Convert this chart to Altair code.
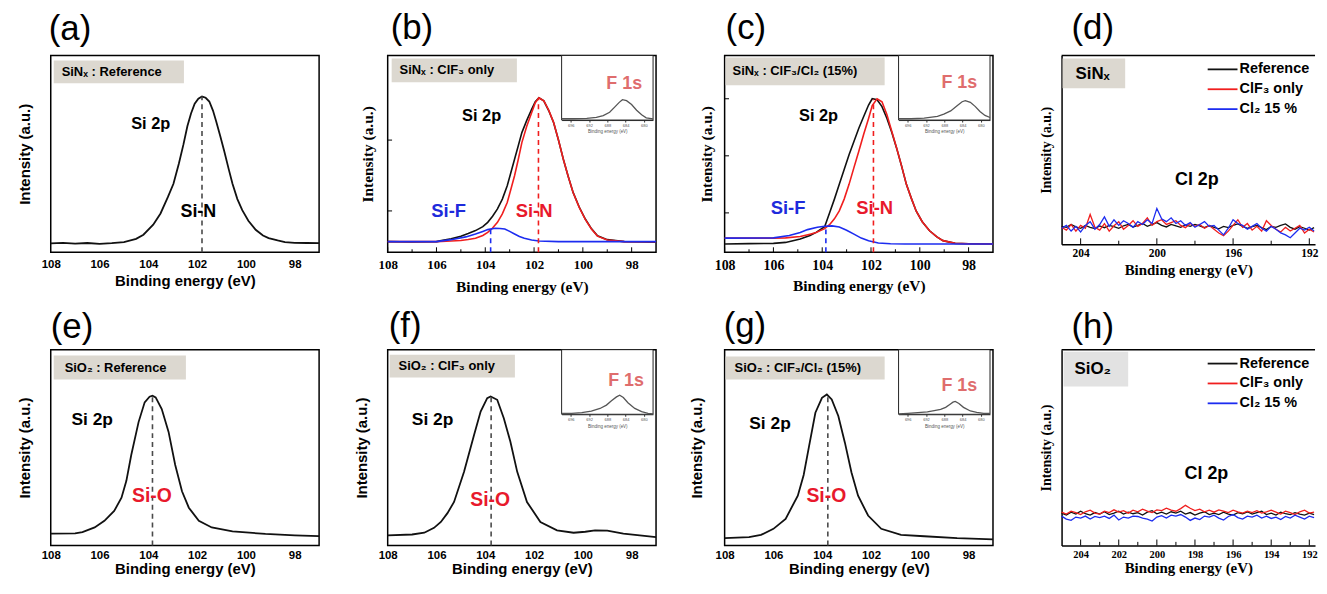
import altair as alt
import pandas as pd

SANS = "Liberation Sans"
SERIF = "Liberation Serif"
W, H = 270, 198
H2 = 197
W4, H_D = 255, 190
BOX = "#dcd8d0"
BOX_H = "#e2e2e2"
RED = "#f01e1e"
BLUE = "#1c2cf0"
TXT_RED = "#e8192c"
TXT_BLUE = "#1e2bdc"
F1S = "#df6d6d"
GRAY_DASH = "#4a4a4a"
BLACK = "#111111"

# ---------------- data ----------------
SI_TICKS = [108, 106, 104, 102, 100, 98]
SI_MINOR = [107, 105, 103, 101, 99]
D_TICKS = [204, 200, 196, 192]
D_MINOR = [202, 198, 194]
H_TICKS = [204, 202, 200, 198, 196, 194, 192]
H_MINOR = [203, 201, 199, 197, 195, 193]
INSET_TICKS = [696, 692, 688, 684, 680]
SERIES = ["Reference", "ClF₃ only", "Cl₂ 15 %"]

# (a) SiNx reference
A_X = [108.0, 107.5, 107.0, 106.5, 106.0, 105.5, 105.0, 104.5, 104.2, 103.8, 103.5, 103.2, 102.97,
       102.75, 102.56, 102.4, 102.25, 102.1, 101.95, 101.8, 101.65, 101.5, 101.35, 101.22, 101.05,
       100.89, 100.7, 100.55, 100.35, 100.15, 99.9, 99.6, 99.3, 99.07, 98.7, 98.4, 98.0, 97.5, 97.0]
A_Y = [0.045, 0.048, 0.044, 0.047, 0.043, 0.046, 0.052, 0.068, 0.089, 0.14, 0.197, 0.28, 0.348,
       0.45, 0.548, 0.64, 0.705, 0.755, 0.78, 0.791, 0.785, 0.766, 0.72, 0.666, 0.59,
       0.515, 0.42, 0.348, 0.27, 0.214, 0.16, 0.114, 0.085, 0.072, 0.06, 0.052, 0.048, 0.047, 0.046]

# (b) SiNx ClF3 only
B_X = [108.0, 107.0, 106.0, 105.8, 105.4, 105.0, 104.7, 104.4, 104.1, 103.9, 103.7, 103.5, 103.3,
       103.1, 102.95, 102.8, 102.65, 102.5, 102.3, 102.1, 101.95, 101.8, 101.6, 101.4, 101.2, 101.0,
       100.8, 100.6, 100.4, 100.15, 99.9, 99.65, 99.4, 99.0, 98.3, 97.6, 97.0]
B_BLACK = [0.054, 0.052, 0.054, 0.059, 0.068, 0.081, 0.095, 0.11, 0.13, 0.152, 0.183, 0.22, 0.27,
           0.338, 0.405, 0.473, 0.54, 0.608, 0.67, 0.726, 0.765, 0.785, 0.769, 0.72, 0.659, 0.57,
           0.473, 0.385, 0.304, 0.23, 0.169, 0.12, 0.084, 0.064, 0.054, 0.052, 0.051]
B_RED = [0.054, 0.054, 0.054, 0.055, 0.057, 0.06, 0.065, 0.071, 0.085, 0.101, 0.123, 0.152, 0.195,
         0.253, 0.32, 0.389, 0.47, 0.557, 0.64, 0.709, 0.76, 0.785, 0.769, 0.722, 0.66, 0.57,
         0.473, 0.385, 0.304, 0.228, 0.167, 0.118, 0.082, 0.062, 0.054, 0.053, 0.053]
B_BLUE_X = [108.0, 106.0, 105.4, 104.8, 104.4, 104.1, 103.9, 103.6, 103.4, 103.2, 103.0, 102.8,
            102.6, 102.4, 102.1, 101.8, 101.0, 97.0]
B_BLUE = [0.054, 0.054, 0.064, 0.078, 0.093, 0.106, 0.115, 0.122, 0.121, 0.118, 0.106, 0.093,
          0.08, 0.071, 0.062, 0.057, 0.054, 0.054]

# (c) SiNx ClF3/Cl2
C_X = [108.0, 107.0, 106.0, 105.5, 104.9, 104.5, 104.25, 103.9, 103.7, 103.5, 103.3, 103.1, 102.9,
       102.7, 102.5, 102.3, 102.1, 101.95, 101.75, 101.55, 101.35, 101.15, 100.95, 100.75, 100.55,
       100.35, 100.15, 99.9, 99.6, 99.3, 99.05, 98.55, 98.0, 97.0]
C_BLACK = [0.042, 0.044, 0.045, 0.05, 0.067, 0.085, 0.101, 0.13, 0.2, 0.27, 0.345, 0.42, 0.496,
           0.563, 0.63, 0.69, 0.748, 0.78, 0.775, 0.74, 0.681, 0.61, 0.529, 0.44, 0.345,
           0.275, 0.21, 0.155, 0.109, 0.078, 0.059, 0.045, 0.043, 0.042]
C_RED = [0.072, 0.072, 0.072, 0.073, 0.08, 0.092, 0.1, 0.12, 0.14, 0.17, 0.21, 0.27, 0.345,
         0.43, 0.513, 0.6, 0.68, 0.745, 0.78, 0.765, 0.7, 0.615, 0.53, 0.44, 0.345,
         0.275, 0.21, 0.155, 0.109, 0.078, 0.059, 0.046, 0.043, 0.042]
C_BLUE_X = [108.0, 106.0, 105.35, 104.9, 104.6, 104.2, 103.9, 103.6, 103.3, 103.0, 102.7, 102.4,
            102.1, 101.7, 101.2, 100.6, 97.0]
C_BLUE = [0.072, 0.073, 0.085, 0.1, 0.115, 0.127, 0.132, 0.134, 0.128, 0.112, 0.092, 0.072,
          0.058, 0.047, 0.043, 0.042, 0.042]

# (e) SiO2 reference
E_X = [108.0, 107.0, 106.7, 106.2, 105.8, 105.4, 105.1, 104.9, 104.7, 104.4, 104.15, 103.95, 103.83,
       103.7, 103.45, 103.17, 102.9, 102.62, 102.34, 101.93, 101.4, 100.55, 99.2, 98.0, 97.0]
E_Y = [0.06, 0.062, 0.068, 0.092, 0.126, 0.176, 0.244, 0.33, 0.462, 0.63, 0.731, 0.76, 0.765,
       0.756, 0.697, 0.58, 0.412, 0.277, 0.193, 0.126, 0.092, 0.072, 0.059, 0.052, 0.048]

# (f) SiO2 ClF3 only
F_X = [108.0, 107.0, 106.5, 106.1, 105.82, 105.55, 105.28, 104.87, 104.46, 104.19, 103.92, 103.78,
       103.51, 103.24, 102.97, 102.69, 102.29, 101.74, 101.06, 100.38, 99.9, 99.5, 99.0, 98.34, 97.0]
F_Y = [0.051, 0.056, 0.065, 0.09, 0.12, 0.165, 0.222, 0.376, 0.564, 0.684, 0.752, 0.761,
       0.744, 0.65, 0.53, 0.376, 0.222, 0.12, 0.077, 0.065, 0.07, 0.077, 0.076, 0.06, 0.043]

# (g) SiO2 ClF3/Cl2
G_X = [108.0, 107.0, 106.51, 106.0, 105.5, 105.0, 104.76, 104.55, 104.28, 104.01, 103.81, 103.61,
       103.34, 103.07, 102.8, 102.53, 102.12, 101.58, 100.77, 99.82, 98.47, 97.0]
G_Y = [0.037, 0.043, 0.054, 0.085, 0.136, 0.254, 0.36, 0.5, 0.678, 0.754, 0.771, 0.746,
       0.661, 0.525, 0.373, 0.254, 0.153, 0.085, 0.054, 0.047, 0.037, 0.031]

# F 1s insets
IB_X = [698, 695.5, 692.5, 690.4, 688.9, 687.5, 686.4, 685.4, 684.7, 683.8, 682.7, 681.6, 680.5, 679.5, 678]
IB_Y = [0.02, 0.02, 0.025, 0.04, 0.07, 0.12, 0.2, 0.274, 0.315, 0.3, 0.24, 0.152, 0.081, 0.035, 0.02]
IC_X = [698, 695.3, 692.4, 689.5, 688.1, 686.6, 685.2, 684.1, 683.4, 682.3, 681.2, 680.2, 679.1, 678]
IC_Y = [0.02, 0.02, 0.03, 0.056, 0.091, 0.142, 0.223, 0.284, 0.299, 0.274, 0.208, 0.132, 0.071, 0.04]
IF_X = [698, 695.8, 693.6, 691.5, 689.6, 688.2, 687.1, 686.0, 685.3, 684.5, 683.5, 682.0, 680.5, 679.1, 678]
IF_Y = [0.015, 0.015, 0.025, 0.05, 0.09, 0.142, 0.208, 0.269, 0.294, 0.259, 0.178, 0.091, 0.041, 0.015, 0.005]
IG_X = [698, 696, 693.8, 691.7, 690.2, 688.8, 687.7, 686.8, 686.1, 685.6, 684.8, 683.8, 682.3, 680.9, 679.4, 678]
IG_Y = [0.005, 0.015, 0.025, 0.036, 0.056, 0.076, 0.107, 0.152, 0.188, 0.198, 0.168, 0.107, 0.051, 0.03, 0.015, 0.015]

# Cl 2p scans
CL_X = [205.0, 204.75, 204.5, 204.25, 204.0, 203.75, 203.5, 203.25,
        203.0, 202.75, 202.5, 202.25, 202.0, 201.75, 201.5, 201.25,
        201.0, 200.75, 200.5, 200.25, 200.0, 199.75, 199.5, 199.25,
        199.0, 198.75, 198.5, 198.25, 198.0, 197.75, 197.5, 197.25,
        197.0, 196.75, 196.5, 196.25, 196.0, 195.75, 195.5, 195.25,
        195.0, 194.75, 194.5, 194.25, 194.0, 193.75, 193.5, 193.25,
        193.0, 192.75, 192.5, 192.25, 192.0, 191.75]
D_REF = [0.095, 0.09, 0.105, 0.092, 0.085, 0.1, 0.09, 0.083,
         0.097, 0.088, 0.1, 0.093, 0.085, 0.098, 0.105, 0.092,
         0.1, 0.11, 0.095, 0.105, 0.115, 0.1, 0.092, 0.105,
         0.098, 0.09, 0.103, 0.095, 0.105, 0.097, 0.088, 0.1,
         0.09, 0.082, 0.095, 0.088, 0.1, 0.108, 0.095, 0.085,
         0.093, 0.1, 0.088, 0.078, 0.095, 0.09, 0.1, 0.108,
         0.09, 0.08, 0.093, 0.085, 0.075, 0.088]
D_CLF3 = [0.09, 0.075, 0.105, 0.07, 0.1, 0.085, 0.158, 0.09,
          0.075, 0.11, 0.07, 0.098, 0.12, 0.08, 0.1, 0.125,
          0.095, 0.11, 0.14, 0.1, 0.12, 0.13, 0.105, 0.115,
          0.125, 0.1, 0.088, 0.11, 0.095, 0.105, 0.085, 0.1,
          0.08, 0.06, 0.045, 0.07, 0.1, 0.13, 0.09, 0.11,
          0.075, 0.095, 0.07, 0.125, 0.1, 0.08, 0.065, 0.09,
          0.07, 0.085, 0.1, 0.06, 0.08, 0.065]
D_CL2 = [0.085, 0.1, 0.07, 0.095, 0.065, 0.1, 0.12, 0.08,
         0.105, 0.145, 0.095, 0.13, 0.1, 0.125, 0.11, 0.09,
         0.12, 0.105, 0.13, 0.11, 0.19, 0.135, 0.12, 0.14,
         0.11, 0.125, 0.1, 0.115, 0.09, 0.105, 0.12, 0.095,
         0.1, 0.075, 0.05, 0.085, 0.13, 0.11, 0.1, 0.08,
         0.095, 0.11, 0.085, 0.07, 0.095, 0.08, 0.06, 0.05,
         0.035, 0.06, 0.085, 0.075, 0.09, 0.07]
H_REF = [0.165, 0.155, 0.17, 0.16, 0.175, 0.162, 0.155, 0.168,
         0.16, 0.172, 0.158, 0.165, 0.175, 0.16, 0.17, 0.162,
         0.168, 0.155, 0.17, 0.178, 0.162, 0.17, 0.16, 0.172,
         0.165, 0.175, 0.16, 0.168, 0.155, 0.165, 0.172, 0.158,
         0.165, 0.158, 0.17, 0.16, 0.155, 0.168, 0.162, 0.172,
         0.16, 0.168, 0.175, 0.158, 0.165, 0.155, 0.17, 0.162,
         0.158, 0.168, 0.16, 0.155, 0.165, 0.158]
H_CLF3 = [0.17, 0.16, 0.175, 0.168, 0.158, 0.172, 0.18, 0.165,
          0.16, 0.175, 0.168, 0.182, 0.17, 0.178, 0.165, 0.18,
          0.172, 0.185, 0.175, 0.168, 0.182, 0.178, 0.19, 0.18,
          0.175, 0.188, 0.205, 0.19, 0.178, 0.185, 0.172, 0.18,
          0.17, 0.182, 0.175, 0.168, 0.18, 0.172, 0.165, 0.175,
          0.168, 0.178, 0.165, 0.172, 0.18, 0.17, 0.16, 0.175,
          0.168, 0.158, 0.172, 0.18, 0.165, 0.17]
H_CL2 = [0.15, 0.135, 0.128, 0.145, 0.14, 0.15, 0.135, 0.148,
         0.142, 0.15, 0.138, 0.155, 0.13, 0.145, 0.14, 0.15,
         0.148, 0.14, 0.135, 0.125, 0.145, 0.152, 0.14, 0.155,
         0.15, 0.158, 0.145, 0.128, 0.14, 0.132, 0.15, 0.145,
         0.155, 0.14, 0.13, 0.148, 0.158, 0.142, 0.135, 0.15,
         0.145, 0.155, 0.14, 0.15, 0.138, 0.145, 0.132, 0.148,
         0.14, 0.155, 0.145, 0.135, 0.15, 0.142]


def one():
    return alt.Data(values=[{}])


def x_axis(values, font, lsize, tsize, lpad, tpad, domain=False):
    return alt.Axis(values=values, format="d", title="Binding energy (eV)",
                    labelFont=font, labelFontSize=lsize, labelFontWeight="bold", labelColor="black",
                    titleFont=font, titleFontSize=tsize, titleFontWeight="bold", titleColor="black",
                    ticks=False, tickSize=0, grid=False, domain=domain, domainColor="black",
                    domainWidth=1.5, labelPadding=lpad, titlePadding=tpad,
                    labelFlush=False, labelOverlap=False)


def y_axis(font, tsize, tpad, domain=False):
    return alt.Axis(title="Intensity (a.u.)", labels=False, ticks=False, tickSize=0, grid=False,
                    domain=domain, domainColor="black", domainWidth=1.5,
                    titleFont=font, titleFontSize=tsize, titleFontWeight="bold",
                    titleColor="black", titlePadding=tpad)


def encs(domain, st, values, domain_lines=False):
    X = alt.X("x:Q", scale=alt.Scale(domain=domain, nice=False, zero=False),
              axis=x_axis(values, st["font"], st["lsize"], st["tsize"], st["lpad"], st["tpad"], domain_lines))
    Y = alt.Y("y:Q", scale=alt.Scale(domain=[0, 1], nice=False, zero=False),
              axis=y_axis(st["font"], st["ytsize"], st["ytpad"], domain_lines))
    return X, Y


def box_layers(box):
    x0, x1, y0, y1, label, size, tx, ty, fill = box
    r = alt.Chart(one()).mark_rect(fill=fill).encode(
        x=alt.value(x0), x2=alt.value(x1), y=alt.value(y0), y2=alt.value(y1))
    t = alt.Chart(one()).mark_text(align="left", baseline="middle", font=SANS, fontWeight="bold",
                                   fontSize=size, color="black").encode(
        x=alt.value(tx), y=alt.value(ty), text=alt.value(label))
    return [r, t]


def text_layers(X, Y, texts):
    out = []
    for (t, x, y, color, size) in texts:
        df = pd.DataFrame({"x": [x], "y": [y], "t": [t]})
        out.append(alt.Chart(df).mark_text(font=SANS, fontWeight="bold", fontSize=size,
                                           color=color).encode(x=X, y=Y, text="t:N"))
    return out


def tick_layers(X, Y, major, minor, lmaj, lmin, yticks=None, xleft=None):
    dfm = pd.DataFrame({"x": major + minor, "y": [0] * (len(major) + len(minor)),
                        "y2": [lmaj] * len(major) + [lmin] * len(minor)})
    out = [alt.Chart(dfm).mark_rule(color="black", strokeWidth=1).encode(
        x=X, y=Y, y2=alt.Y2("y2:Q"))]
    if yticks:
        dfy = pd.DataFrame({"x": [xleft] * len(yticks), "x2": [xleft - 0.18] * len(yticks), "y": yticks})
        out.append(alt.Chart(dfy).mark_rule(color="black", strokeWidth=1).encode(
            x=X, x2=alt.X2("x2:Q"), y=Y))
    return out


def inset_layer(xs, ys, fpos, h):
    ix = alt.X("x:Q", scale=alt.Scale(domain=[698, 678], range=[175, 267], nice=False, zero=False),
               axis=alt.Axis(orient="bottom", offset=-(h - 65), values=INSET_TICKS, format="d",
                             title="Binding energy (eV)", labelFont=SANS, labelFontSize=4,
                             labelColor="#555", titleFont=SANS, titleFontSize=4.5,
                             titleColor="#555", titleFontWeight="normal", tickSize=2,
                             tickColor="#333", labelPadding=1, titlePadding=2,
                             domainColor="#333", domainWidth=1, grid=False, labelFlush=False))
    iy = alt.Y("y:Q", scale=alt.Scale(domain=[0, 1], range=[65, 0], nice=False, zero=False), axis=None)
    frame = alt.Chart(one()).mark_rect(fill="white", stroke="#222", strokeWidth=1).encode(
        x=alt.value(175), x2=alt.value(267), y=alt.value(0), y2=alt.value(65))
    line = alt.Chart(pd.DataFrame({"x": xs, "y": ys})).mark_line(color="#555", strokeWidth=1.3).encode(
        x=ix, y=iy)
    txt = alt.Chart(pd.DataFrame({"x": [fpos[0]], "y": [fpos[1]], "t": ["F 1s"]})).mark_text(
        font=SANS, fontWeight="bold", fontSize=18, color=F1S).encode(x=ix, y=iy, text="t:N")
    return alt.layer(frame, line, txt)


def title(letter, dx, off):
    return alt.TitleParams(text=letter, anchor="start", frame="group", font=SANS, fontSize=35,
                           fontWeight="normal", color="black", offset=off, dx=dx)


def si_panel(letter, dx, off, st, box, curves, dashes, texts, h, inset=None, ticks=False, yticks=None):
    X, Y = encs([108, 97], st, SI_TICKS)
    layers = box_layers(box)
    for (xs, ys, color, sw) in curves:
        layers.append(alt.Chart(pd.DataFrame({"x": xs, "y": ys})).mark_line(
            color=color, strokeWidth=sw).encode(x=X, y=Y))
    for (x, top, color) in dashes:
        df = pd.DataFrame({"x": [x], "y": [0], "y2": [top]})
        layers.append(alt.Chart(df).mark_rule(color=color, strokeWidth=1.6, strokeDash=[5, 4]).encode(
            x=X, y=Y, y2=alt.Y2("y2:Q")))
    layers += text_layers(X, Y, texts)
    if ticks:
        layers += tick_layers(X, Y, SI_TICKS, SI_MINOR, 5.0 / h, 3.0 / h, yticks, 108)
    main = alt.layer(*layers)
    if inset is not None:
        ch = alt.layer(main, inset_layer(*inset, h)).resolve_scale(x="independent", y="independent")
    else:
        ch = main
    return ch.properties(width=W, height=h, title=title(letter, dx, off))


def cl_panel(letter, dx, off, st, box, domain, major, minor, ys, text, height):
    X, Y = encs(domain, st, major, True)
    layers = box_layers(box)
    layers.append(alt.Chart(one()).mark_rule(color="black", strokeWidth=1.5).encode(
        x=alt.value(0), x2=alt.value(W4), y=alt.value(0)))
    lmaj = 6.0 / height
    layers += tick_layers(X, Y, major, minor, lmaj, lmaj * 0.6)
    rows = []
    for name, vals in zip(SERIES, ys):
        for x, y in zip(CL_X, vals):
            rows.append({"x": x, "y": y, "s": name})
    color = alt.Color("s:N", sort=SERIES,
                      scale=alt.Scale(domain=SERIES, range=[BLACK, RED, BLUE]),
                      legend=alt.Legend(orient="none", legendX=151, legendY=3, title=None,
                                        direction="vertical", symbolType="M-1.5,0L1.5,0",
                                        symbolSize=400, symbolStrokeWidth=1.8, labelFont=SANS,
                                        labelFontSize=14.5, labelFontWeight="bold", labelColor="black",
                                        labelOffset=6, rowPadding=2, padding=0))
    layers.append(alt.Chart(pd.DataFrame(rows)).mark_line(strokeWidth=1.3).encode(
        x=X, y=Y, color=color))
    layers += text_layers(X, Y, [text])
    return alt.layer(*layers).properties(width=W4, height=height, title=title(letter, dx, off),
                                         view=alt.ViewBackground(stroke="transparent"))


ST = {
    "a": dict(font=SANS, lsize=11.5, tsize=15, lpad=6, tpad=4, ytsize=15, ytpad=18),
    "b": dict(font=SERIF, lsize=13, tsize=15.5, lpad=6, tpad=8, ytsize=15.5, ytpad=12),
    "c": dict(font=SERIF, lsize=14, tsize=15.5, lpad=6, tpad=6, ytsize=15.5, ytpad=10),
    "d": dict(font=SERIF, lsize=11.5, tsize=15, lpad=3, tpad=4, ytsize=14, ytpad=8),
    "e": dict(font=SANS, lsize=11.5, tsize=15, lpad=4, tpad=1, ytsize=15, ytpad=18),
    "f": dict(font=SANS, lsize=11.5, tsize=15, lpad=4, tpad=1, ytsize=15, ytpad=18),
    "g": dict(font=SANS, lsize=11.5, tsize=15, lpad=4, tpad=1, ytsize=15, ytpad=20),
    "h": dict(font=SERIF, lsize=10.5, tsize=15, lpad=4, tpad=1, ytsize=14, ytpad=8),
}

R1, R2 = 9, 5

pa = si_panel("(a)", -2, R1, ST["a"],
              (3, 134, 5, 28, "SiNₓ : Reference", 13, 11, 16.5, BOX),
              [(A_X, A_Y, BLACK, 1.8)],
              [(101.8, 0.791, GRAY_DASH)],
              [("Si 2p", 103.9, 0.65, "black", 16.5), ("Si-N", 101.95, 0.206, "black", 18)], H)

pb = si_panel("(b)", 3, R1, ST["b"],
              (4, 130, 3, 27, "SiNₓ : ClF₃ only", 13, 12, 15, BOX),
              [(B_X, B_BLACK, BLACK, 1.6), (B_X, B_RED, RED, 1.6), (B_BLUE_X, B_BLUE, BLUE, 1.6)],
              [(101.82, 0.785, RED), (103.78, 0.12, BLUE)],
              [("Si 2p", 104.15, 0.69, "black", 16.5), ("Si-F", 105.5, 0.21, TXT_BLUE, 18.5),
               ("Si-N", 102.0, 0.21, TXT_RED, 18.5)], H,
              inset=(IB_X, IB_Y, (684.3, 0.55)), ticks=True, yticks=[0.21, 0.57])

pc = si_panel("(c)", 1, R1, ST["c"],
              (1, 161, 2, 30, "SiNₓ : ClF₃/Cl₂ (15%)", 13, 8, 16, BOX),
              [(C_X, C_BLACK, BLACK, 1.6), (C_X, C_RED, RED, 1.6), (C_BLUE_X, C_BLUE, BLUE, 1.6)],
              [(101.9, 0.778, RED), (103.85, 0.133, BLUE)],
              [("Si 2p", 104.15, 0.69, "black", 16.5), ("Si-F", 105.4, 0.227, TXT_BLUE, 18.5),
               ("Si-N", 101.85, 0.227, TXT_RED, 18.5)], H,
              inset=(IC_X, IC_Y, (684.7, 0.57)), ticks=True, yticks=[0.2, 0.49, 0.78])

pd_ = cl_panel("(d)", 10, R1, ST["d"],
               (1, 64, 3, 33, "SiNₓ", 17, 14, 19, BOX),
               [205, 191.7], D_TICKS, D_MINOR, [D_REF, D_CLF3, D_CL2],
               ("Cl 2p", 197.9, 0.34, "black", 18), H_D)

pe = si_panel("(e)", 0, R2, ST["e"],
              (3, 136, 6, 30, "SiO₂ : Reference", 13, 14, 18, BOX),
              [(E_X, E_Y, BLACK, 1.8)],
              [(103.83, 0.765, GRAY_DASH)],
              [("Si 2p", 106.3, 0.64, "black", 17.5), ("Si-O", 103.85, 0.25, TXT_RED, 19.5)], H2)

pf = si_panel("(f)", 1, R2, ST["f"],
              (2, 128, 5, 28, "SiO₂ : ClF₃ only", 13, 11, 16.5, BOX),
              [(F_X, F_Y, BLACK, 1.8)],
              [(103.76, 0.761, GRAY_DASH)],
              [("Si 2p", 106.16, 0.64, "black", 17.5), ("Si-O", 103.8, 0.23, TXT_RED, 19.5)], H2,
              inset=(IF_X, IF_Y, (683.9, 0.51)))

pg = si_panel("(g)", -1, R2, ST["g"],
              (1, 161, 7, 30, "SiO₂ : ClF₃/Cl₂ (15%)", 13, 10, 18.5, BOX),
              [(G_X, G_Y, BLACK, 1.8)],
              [(103.77, 0.771, GRAY_DASH)],
              [("Si 2p", 106.14, 0.62, "black", 17.5), ("Si-O", 103.83, 0.25, TXT_RED, 19.5)], H2,
              inset=(IG_X, IG_Y, (684.7, 0.43)))

ph = cl_panel("(h)", 10, 4, ST["h"],
              (2, 67, 2, 37, "SiO₂", 17, 13, 19.5, BOX_H),
              [205, 191.7], H_TICKS, H_MINOR, [H_REF, H_CLF3, H_CL2],
              ("Cl 2p", 197.4, 0.365, "black", 18), H2)

chart = alt.concat(pa, pb, pc, pd_, pe, pf, pg, ph, columns=4, align="each",
                   spacing={"row": 98, "column": 69}, bounds="flush").resolve_scale(
    color="independent").properties(
    padding={"left": 9, "top": 0, "right": 0, "bottom": 0}, background="white").configure_view(
    stroke="black", strokeWidth=1.5)

chart.save("out.html", embed_options={"renderer": "svg", "actions": False})
